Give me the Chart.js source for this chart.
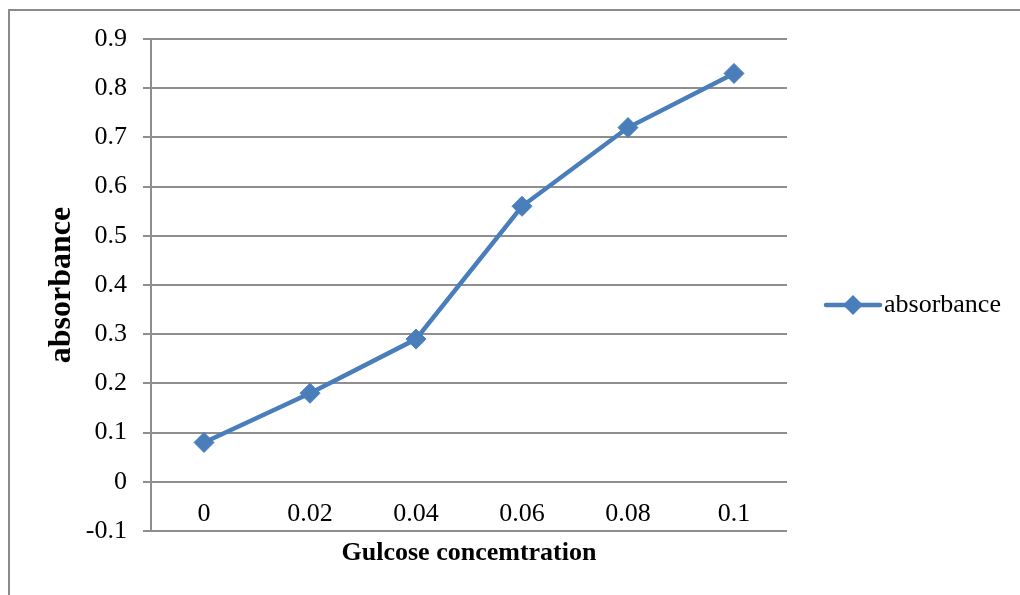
<!DOCTYPE html>
<html>
<head>
<meta charset="utf-8">
<script src="https://cdn.jsdelivr.net/npm/chart.js@4/dist/chart.umd.min.js"></script>
<style>
  html, body { margin: 0; padding: 0; background: #fff; }
  #wrap { width: 1020px; height: 595px; }
</style>
</head>
<body>
<div id="wrap"><canvas id="absorbanceChart" width="1020" height="595"></canvas></div>
<script>
var concentrations = ["0", "0.02", "0.04", "0.06", "0.08", "0.1"];
var absorbance = [0.08, 0.18, 0.29, 0.56, 0.72, 0.83];
var seriesName = "absorbance";
var xTitle = "Gulcose concemtration";
var yTitle = "absorbance";

var FONT = "'Liberation Serif', 'Times New Roman', serif";
var BLUE = "#4a7ebb";
var GRID = "#8e8e8e";

// grey frame around the whole chart area
var framePlugin = {
    id: 'frame',
    beforeDraw: function (chart) {
        var ctx = chart.ctx;
        ctx.save();
        ctx.strokeStyle = "#8a8a8a";
        ctx.lineWidth = 2;
        ctx.strokeRect(9, 10, chart.width + 20, chart.height + 20);
        ctx.restore();
    }
};

// legend on the right: line segment with a diamond, then the series name
var sideLegend = {
    id: 'sideLegend',
    afterDraw: function (chart) {
        var ctx = chart.ctx;
        var area = chart.chartArea;
        var x = area.right + 39;
        var y = (area.top + area.bottom) / 2 + 20;
        ctx.save();
        ctx.strokeStyle = BLUE;
        ctx.lineWidth = 4.5;
        ctx.lineCap = 'round';
        ctx.beginPath();
        ctx.moveTo(x, y);
        ctx.lineTo(x + 54, y);
        ctx.stroke();
        ctx.fillStyle = BLUE;
        ctx.beginPath();
        ctx.moveTo(x + 27, y - 10);
        ctx.lineTo(x + 37, y);
        ctx.lineTo(x + 27, y + 10);
        ctx.lineTo(x + 17, y);
        ctx.closePath();
        ctx.fill();
        ctx.fillStyle = "#000";
        ctx.font = "26px " + FONT;
        ctx.textBaseline = 'middle';
        ctx.fillText(seriesName, x + 58, y);
        ctx.restore();
    }
};

var ctx = document.getElementById("absorbanceChart");
var chart = new Chart(ctx, {
    type: 'line',
    data: {
        labels: concentrations,
        datasets: [{
            label: seriesName,
            data: absorbance,
            borderColor: BLUE,
            backgroundColor: BLUE,
            borderWidth: 4.5,
            pointStyle: 'rectRot',
            pointRadius: 10,
            pointBorderWidth: 1,
            pointBorderColor: BLUE,
            pointBackgroundColor: BLUE,
            tension: 0,
            fill: false
        }]
    },
    options: {
        responsive: false,
        animation: false,
        devicePixelRatio: 1,
        layout: { padding: { left: 30, right: 233, top: 39, bottom: 64 } },
        plugins: {
            legend: { display: false },
            tooltip: { enabled: false }
        },
        scales: {
            x: {
                // category axis crosses the value axis at zero
                position: { y: 0 },
                offset: true,
                grid: { display: false, drawTicks: false },
                border: { display: false },
                ticks: {
                    color: "#000",
                    font: { family: FONT, size: 26 },
                    padding: 17,
                    maxRotation: 0
                },
                title: {
                    display: true,
                    text: xTitle,
                    color: "#000",
                    font: { family: FONT, size: 26, weight: 'bold' },
                    padding: { top: 0, bottom: 0 }
                },
                afterFit: function (scale) { scale.height = 87; }
            },
            y: {
                min: -0.1,
                max: 0.9,
                grid: {
                    color: GRID,
                    lineWidth: 2,
                    tickLength: 8,
                    drawTicks: true
                },
                border: { display: true, color: GRID, width: 2 },
                ticks: {
                    stepSize: 0.1,
                    color: "#000",
                    font: { family: FONT, size: 26 },
                    padding: 16,
                    callback: function (v) { return String(Math.round(v * 10) / 10); }
                },
                title: {
                    display: true,
                    text: yTitle,
                    color: "#000",
                    font: { family: FONT, size: 32, weight: 'bold' },
                    padding: { top: 13, bottom: 0 }
                },
                afterFit: function (scale) { scale.width = 121; }
            }
        }
    },
    plugins: [framePlugin, sideLegend]
});
</script>
</body>
</html>
